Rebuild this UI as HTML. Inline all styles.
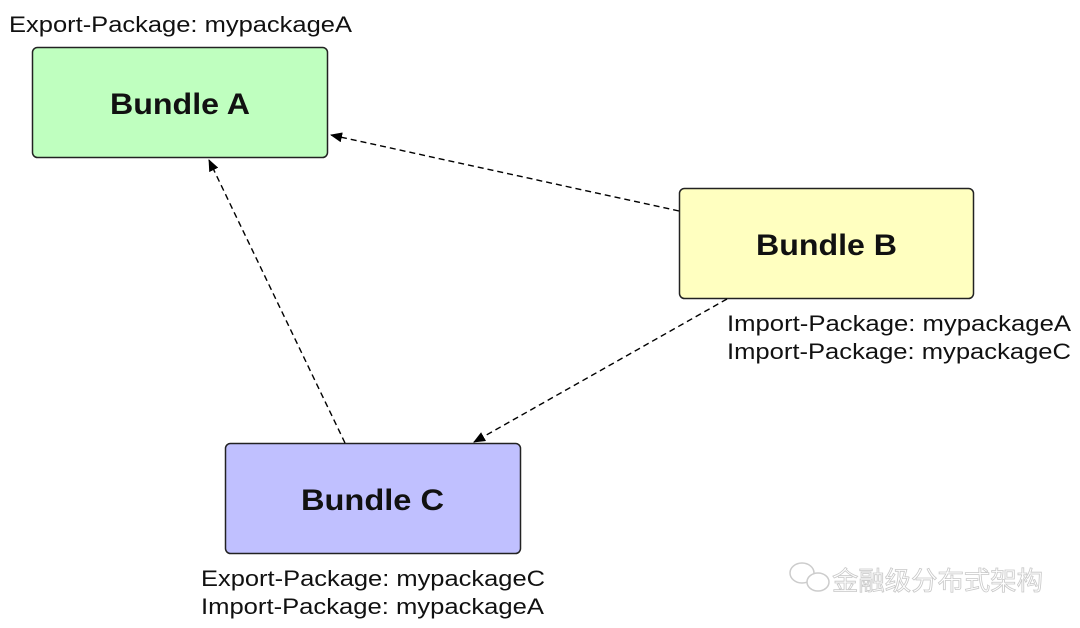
<!DOCTYPE html>
<html><head><meta charset="utf-8"><style>
html,body{margin:0;padding:0;background:#fff;}
svg{display:block;}
text{font-family:"Liberation Sans",Arial,sans-serif;fill:#111;}
</style></head><body>
<svg width="1080" height="628" viewBox="0 0 1080 628" xmlns="http://www.w3.org/2000/svg">
<defs>
<marker id="ah" markerWidth="12" markerHeight="10" refX="11" refY="5" orient="auto" markerUnits="userSpaceOnUse">
<path d="M0,0 L12,5 L0,10 Z" fill="#000"/>
</marker>
</defs>
<rect x="32.5" y="47.5" width="295" height="110" rx="5" fill="#bfffbf" stroke="#222" stroke-width="1.5"/>
<rect x="679.5" y="188.5" width="294" height="110" rx="5" fill="#ffffc0" stroke="#222" stroke-width="1.5"/>
<rect x="225.5" y="443.5" width="295" height="110" rx="5" fill="#c0c0ff" stroke="#222" stroke-width="1.5"/>
<g stroke="#000" stroke-width="1.4" stroke-dasharray="6,4" fill="none" marker-end="url(#ah)">
<line x1="679" y1="211" x2="331" y2="135"/>
<line x1="727" y1="299" x2="474" y2="442"/>
<line x1="345" y1="443" x2="209" y2="160"/>
</g>
<g font-size="30" font-weight="bold">
<text x="110" y="114" textLength="140" lengthAdjust="spacingAndGlyphs">Bundle A</text>
<text x="756" y="255" textLength="141" lengthAdjust="spacingAndGlyphs">Bundle B</text>
<text x="301" y="510" textLength="143" lengthAdjust="spacingAndGlyphs">Bundle C</text>
</g>
<g font-size="22">
<text x="9" y="32" textLength="343" lengthAdjust="spacingAndGlyphs">Export-Package: mypackageA</text>
<text x="727" y="331" textLength="344" lengthAdjust="spacingAndGlyphs">Import-Package: mypackageA</text>
<text x="727" y="359" textLength="344" lengthAdjust="spacingAndGlyphs">Import-Package: mypackageC</text>
<text x="201" y="586" textLength="344" lengthAdjust="spacingAndGlyphs">Export-Package: mypackageC</text>
<text x="201" y="614" textLength="343" lengthAdjust="spacingAndGlyphs">Import-Package: mypackageA</text>
</g>
<g fill="none" stroke="#ccc" stroke-width="1.5">
<ellipse cx="802" cy="573" rx="12" ry="10"/>
<ellipse cx="818" cy="582" rx="11" ry="9" fill="#fff"/>
</g>
<text x="832" y="590" font-size="26" textLength="211" lengthAdjust="spacingAndGlyphs" style="font-family:'Noto Sans CJK SC',sans-serif;fill:#fff;stroke:#c8c8c8;stroke-width:0.8">金融级分布式架构</text>
</svg>
</body></html>
